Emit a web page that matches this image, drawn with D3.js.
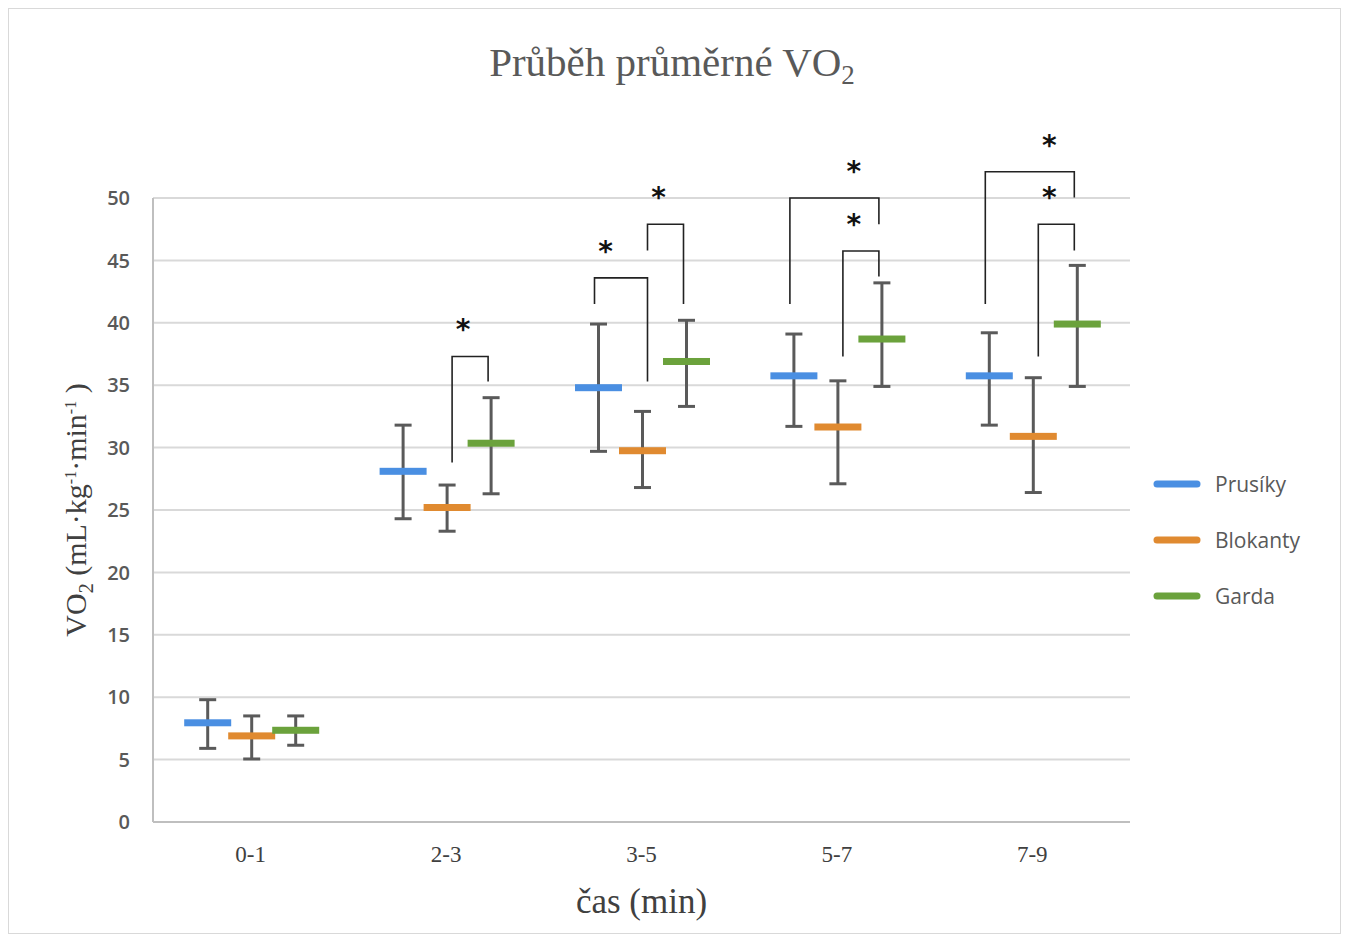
<!DOCTYPE html>
<html>
<head>
<meta charset="utf-8">
<script src="https://cdn.jsdelivr.net/npm/d3@7"></script>
<style>
  body { margin: 0; background: #fff; }
</style>
</head>
<body>
<div class="canvas"></div>
<script>
// Data
const categories = ['0-1', '2-3', '3-5', '5-7', '7-9'];
const seriesNames = ['Prusíky', 'Blokanty', 'Garda'];
const yTicks = [0, 5, 10, 15, 20, 25, 30, 35, 40, 45, 50];

const prusikyMean = [7.95, 28.1, 34.8, 35.75, 35.75];
const prusikyLow  = [5.9, 24.3, 29.7, 31.7, 31.8];
const prusikyHigh = [9.8, 31.8, 39.9, 39.1, 39.2];

const blokantyMean = [6.9, 25.2, 29.75, 31.65, 30.9];
const blokantyLow  = [5.05, 23.3, 26.8, 27.1, 26.4];
const blokantyHigh = [8.5, 27.0, 32.9, 35.35, 35.6];

const gardaMean = [7.35, 30.35, 36.9, 38.7, 39.9];
const gardaLow  = [6.15, 26.3, 33.3, 34.9, 34.9];
const gardaHigh = [8.5, 34.0, 40.2, 43.2, 44.6];

// significance brackets: category, from series, to series, top, from-leg end, to-leg end, series the star sits over
const bracketCat   = ['2-3', '3-5', '3-5', '5-7', '5-7', '7-9', '7-9'];
const bracketFrom  = [1, 0, 1, 0, 1, 0, 1];
const bracketTo    = [2, 1, 2, 2, 2, 2, 2];
const bracketTop   = [37.3, 43.6, 47.9, 50.0, 45.75, 52.1, 47.9];
const bracketFromY = [28.8, 41.5, 45.8, 41.5, 37.3, 41.5, 37.3];
const bracketToY   = [35.3, 35.3, 41.5, 47.9, 43.7, 50.05, 45.8];
const bracketStar  = [1, 0, 1, 1, 1, 1, 1];

const means = [prusikyMean, blokantyMean, gardaMean];
const lows = [prusikyLow, blokantyLow, gardaLow];
const highs = [prusikyHigh, blokantyHigh, gardaHigh];

// Variables
const width = 1350, height = 934;
const margin = { top: 198, right: 220, bottom: 112, left: 153 };
const colors = ['#4a8fe2', '#e08a30', '#6ba23c'];
const legOffset = [-47, 6, 42];
const serif = '"Liberation Serif", "Times New Roman", serif';
const sans = '"Open Sans", Lato, sans-serif';

const svg = d3.select('.canvas')
    .append('svg')
    .attr('width', width)
    .attr('height', height);

svg.append('rect')
    .attr('x', 8.5).attr('y', 8.5)
    .attr('width', 1332).attr('height', 925)
    .attr('fill', '#fff')
    .attr('stroke', '#d9d9d9');

const x = d3.scaleBand()
    .domain(categories)
    .range([margin.left, width - margin.right]);

const xs = d3.scalePoint()
    .domain(d3.range(seriesNames.length))
    .range([-43, 45]);

const y = d3.scaleLinear()
    .domain([0, 50])
    .range([height - margin.bottom, margin.top]);

const cx = c => x(c) + x.bandwidth() / 2;

// gridlines
svg.append('g')
    .selectAll('line')
    .data(yTicks.filter(d => d > 0))
    .join('line')
    .attr('x1', margin.left).attr('x2', width - margin.right)
    .attr('y1', d => y(d)).attr('y2', d => y(d))
    .attr('stroke', '#d9d9d9')
    .attr('stroke-width', 2);

// axes lines
svg.append('line')
    .attr('x1', margin.left).attr('x2', margin.left)
    .attr('y1', y(50)).attr('y2', y(0))
    .attr('stroke', '#bfbfbf').attr('stroke-width', 2);
svg.append('line')
    .attr('x1', margin.left).attr('x2', width - margin.right)
    .attr('y1', y(0)).attr('y2', y(0))
    .attr('stroke', '#bfbfbf').attr('stroke-width', 2);

// y tick labels
svg.append('g')
    .selectAll('text')
    .data(yTicks)
    .join('text')
    .attr('x', 130)
    .attr('y', d => y(d))
    .attr('dy', '0.36em')
    .attr('text-anchor', 'end')
    .style('font', `600 20px ${sans}`)
    .attr('fill', '#595959')
    .text(d => d);

// x tick labels
svg.append('g')
    .selectAll('text')
    .data(categories)
    .join('text')
    .attr('x', d => cx(d))
    .attr('y', 862)
    .attr('text-anchor', 'middle')
    .style('font', `23px ${serif}`)
    .attr('fill', '#404040')
    .text(d => d);

// error bars and mean markers
seriesNames.forEach((name, s) => {
    const g = svg.append('g').attr('class', 'series');
    const pts = categories.map((c, i) => ({ c, m: means[s][i], lo: lows[s][i], hi: highs[s][i] }));
    const px = d => cx(d.c) + xs(s);

    g.selectAll('line.whisker').data(pts).join('line')
        .attr('class', 'whisker')
        .attr('x1', px).attr('x2', px)
        .attr('y1', d => y(d.lo)).attr('y2', d => y(d.hi))
        .attr('stroke', '#5a5a5a').attr('stroke-width', 3);
    g.selectAll('line.capHi').data(pts).join('line')
        .attr('class', 'capHi')
        .attr('x1', d => px(d) - 8.5).attr('x2', d => px(d) + 8.5)
        .attr('y1', d => y(d.hi)).attr('y2', d => y(d.hi))
        .attr('stroke', '#5a5a5a').attr('stroke-width', 3);
    g.selectAll('line.capLo').data(pts).join('line')
        .attr('class', 'capLo')
        .attr('x1', d => px(d) - 8.5).attr('x2', d => px(d) + 8.5)
        .attr('y1', d => y(d.lo)).attr('y2', d => y(d.lo))
        .attr('stroke', '#5a5a5a').attr('stroke-width', 3);
    g.selectAll('rect').data(pts).join('rect')
        .attr('x', d => px(d) - 23.5)
        .attr('y', d => y(d.m) - 3.5)
        .attr('width', 47).attr('height', 7)
        .attr('fill', colors[s]);
});

// significance brackets
const brackets = bracketCat.map((c, i) => ({
    c, from: bracketFrom[i], to: bracketTo[i], top: bracketTop[i],
    fy: bracketFromY[i], ty: bracketToY[i], star: bracketStar[i]
}));

svg.append('g')
    .selectAll('path')
    .data(brackets)
    .join('path')
    .attr('d', d => {
        const x1 = cx(d.c) + legOffset[d.from], x2 = cx(d.c) + legOffset[d.to];
        return `M${x1},${y(d.fy)}V${y(d.top)}H${x2}V${y(d.ty)}`;
    })
    .attr('fill', 'none')
    .attr('stroke', '#222')
    .attr('stroke-width', 1.6);

svg.append('g')
    .selectAll('text')
    .data(brackets)
    .join('text')
    .attr('x', d => cx(d.c) + legOffset[d.star] + 11)
    .attr('y', d => y(d.top) - 29 + 12)
    .attr('text-anchor', 'middle')
    .style('font', `bold 28px "DejaVu Sans", sans-serif`)
    .attr('fill', '#111')
    .text('*');

// title
const title = svg.append('text')
    .attr('x', 672).attr('y', 76)
    .attr('text-anchor', 'middle')
    .style('font', `41px ${serif}`)
    .attr('fill', '#595959');
title.append('tspan').text('Průběh průměrné VO');
title.append('tspan').attr('dy', 8).style('font-size', '27px').text('2');

// y axis title
const yt = svg.append('text')
    .attr('transform', 'translate(86,510) rotate(-90)')
    .attr('text-anchor', 'middle')
    .style('font', `30px ${serif}`)
    .attr('fill', '#404040');
yt.append('tspan').text('VO');
yt.append('tspan').attr('dy', 7).style('font-size', '20px').text('2');
yt.append('tspan').attr('dy', -7).text(' (mL·kg');
yt.append('tspan').attr('dy', -10).style('font-size', '16px').text('-1');
yt.append('tspan').attr('dy', 10).text('·min');
yt.append('tspan').attr('dy', -10).style('font-size', '16px').text('-1');
yt.append('tspan').attr('dy', 10).text(' )');

// x axis title
svg.append('text')
    .attr('x', cx('3-5')).attr('y', 913)
    .attr('text-anchor', 'middle')
    .style('font', `35px ${serif}`)
    .attr('fill', '#404040')
    .text('čas (min)');

// legend
const legend = svg.append('g')
    .selectAll('g')
    .data(seriesNames)
    .join('g')
    .attr('transform', (d, i) => `translate(1157,${484 + i * 56})`);
legend.append('line')
    .attr('x1', 0).attr('x2', 40)
    .attr('stroke', (d, i) => colors[i])
    .attr('stroke-width', 7)
    .attr('stroke-linecap', 'round');
legend.append('text')
    .attr('x', 58)
    .attr('dy', '0.36em')
    .style('font', `21px ${sans}`)
    .attr('fill', '#595959')
    .text(d => d);
</script>
</body>
</html>
